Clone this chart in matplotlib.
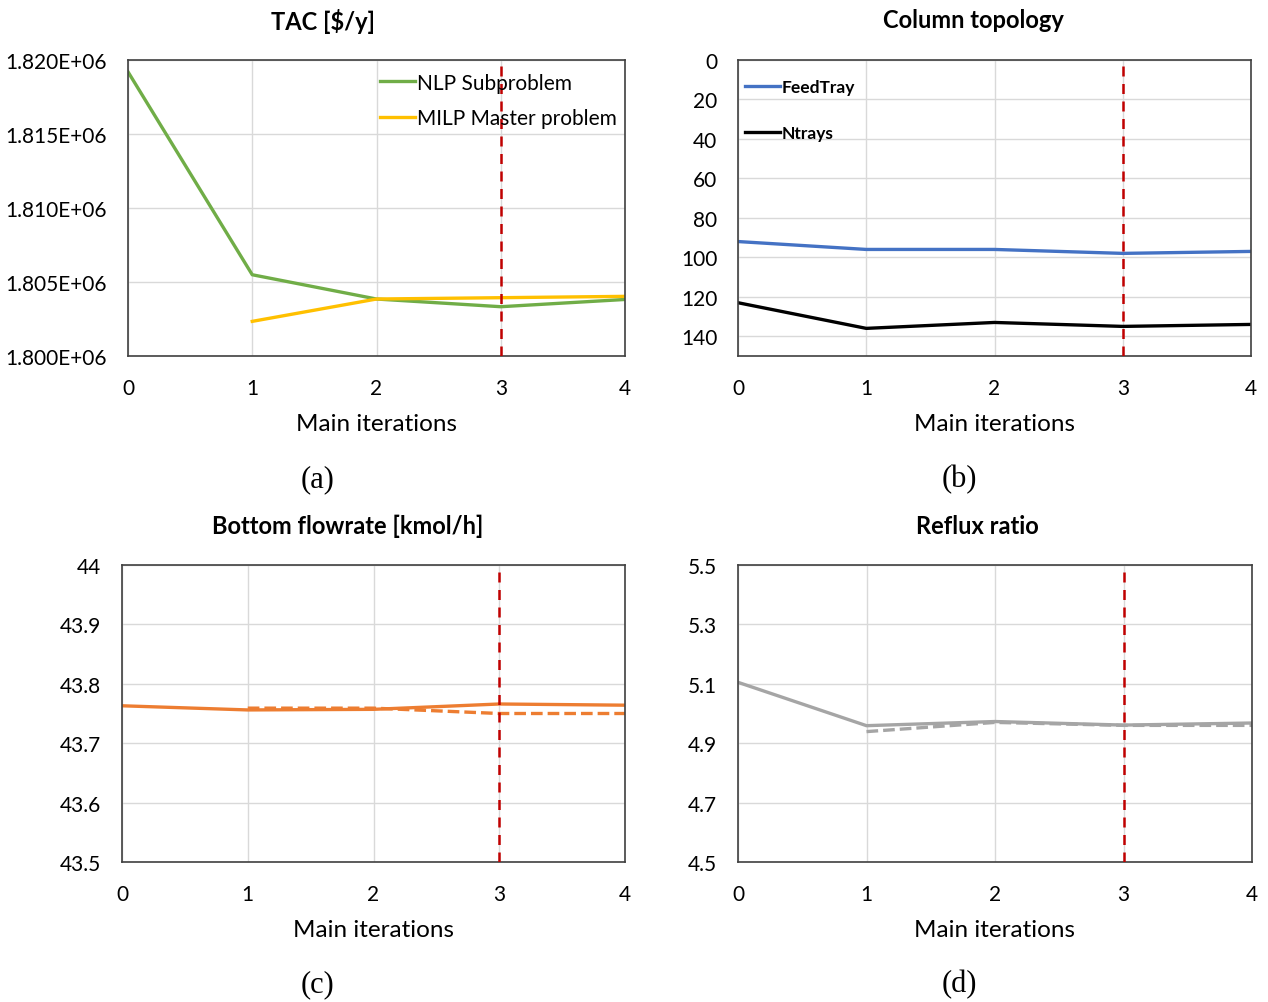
import numpy as np
import matplotlib.pyplot as plt
from matplotlib.ticker import FuncFormatter

# iterations
iters = [0, 1, 2, 3, 4]
iters_milp = [1, 2, 3, 4]

# (a) TAC [$/y]
tac_nlp = [1.8192e6, 1.80549e6, 1.80385e6, 1.80333e6, 1.80382e6]
tac_milp = [1.80234e6, 1.80385e6, 1.80394e6, 1.80403e6]

# (b) column topology
feed_tray = [92, 96, 96, 98, 97]
n_trays = [123, 136, 133, 135, 134]

# (c) bottom flowrate [kmol/h]
bottom_nlp = [43.763, 43.756, 43.757, 43.766, 43.764]
bottom_milp = [43.759, 43.759, 43.750, 43.750]

# (d) reflux ratio
reflux_nlp = [5.105, 4.959, 4.973, 4.961, 4.968]
reflux_milp = [4.939, 4.970, 4.960, 4.960]

best_iter = 3

plt.rcParams['font.family'] = ['Lato', 'DejaVu Sans']

W, H = 1268, 1003
fig = plt.figure(figsize=(W / 100, H / 100), dpi=100)


def add_ax(left, right, top, bottom):
    return fig.add_axes([left / W, 1 - bottom / H, (right - left) / W, (bottom - top) / H])


def style(ax, title, title_xy, label, label_xy):
    ax.set_xlim(0, 4)
    ax.set_xticks(iters)
    ax.grid(True, color='#d9d9d9', lw=1)
    ax.set_axisbelow(True)
    for s in ax.spines.values():
        s.set_color('#404040')
        s.set_linewidth(1.2)
    ax.tick_params(length=0, labelsize=15)
    ax.tick_params(axis='x', pad=16)
    ax.tick_params(axis='y', pad=15)
    ax.set_xlabel('Main iterations', fontsize=17.5, labelpad=11)
    fig.text(title_xy[0] / W, 1 - title_xy[1] / H, title, fontsize=17,
             fontweight='bold', ha='center', va='center')
    fig.text(label_xy[0] / W, 1 - label_xy[1] / H, label, fontsize=22,
             family='Liberation Serif', ha='center', va='center')
    ax.axvline(best_iter, color='#c00000', lw=1.8, ls=(0, (4, 3)), zorder=5)


# (a)
ax = add_ax(128, 625, 61, 357)
ax.plot(iters, tac_nlp, color='#70ad47', lw=2.4, label='NLP Subproblem')
ax.plot(iters_milp, tac_milp, color='#ffc000', lw=2.4, label='MILP Master problem')
ax.set_ylim(1.800e6, 1.820e6)
ax.set_yticks(np.arange(1.800e6, 1.8201e6, 0.005e6))
ax.yaxis.set_major_formatter(FuncFormatter(lambda v, p: '%.3fE+06' % (v / 1e6)))
style(ax, 'TAC [$/y]', (323, 21), '(a)', (318, 480))
ax.legend(loc='upper right', frameon=False, fontsize=15, handlelength=1.65,
          handletextpad=0.1, borderaxespad=0, labelspacing=0.75,
          bbox_to_anchor=(1.0, 0.985))

# (b)
ax = add_ax(738, 1251, 61, 357)
ax.plot(iters, feed_tray, color='#4472c4', lw=2.4, label='FeedTray')
ax.plot(iters, n_trays, color='black', lw=2.4, label='Ntrays')
ax.set_ylim(150, 0)
ax.set_yticks(np.arange(0, 141, 20))
style(ax, 'Column topology', (973, 21), '(b)', (959, 480))
ax.legend(loc='upper left', frameon=False, prop={'size': 12.5, 'weight': 'bold'},
          handlelength=2.0, handletextpad=0.1, borderaxespad=0,
          labelspacing=1.75, bbox_to_anchor=(0.0, 0.96))

# (c)
ax = add_ax(122, 625, 566, 863)
ax.plot(iters, bottom_nlp, color='#ed7d31', lw=2.4)
ax.plot(iters_milp, bottom_milp, color='#ed7d31', lw=2.4, ls=(0, (3.5, 1.5)))
ax.set_ylim(43.5, 44)
ax.set_yticks(np.arange(43.5, 44.01, 0.1))
ax.yaxis.set_major_formatter(FuncFormatter(lambda v, p: '%g' % round(v, 1)))
style(ax, 'Bottom flowrate [kmol/h]', (348, 526), '(c)', (318, 985))

# (d)
ax = add_ax(738, 1252, 566, 863)
ax.plot(iters, reflux_nlp, color='#a5a5a5', lw=2.4)
ax.plot(iters_milp, reflux_milp, color='#a5a5a5', lw=2.4, ls=(0, (3.5, 1.5)))
ax.set_ylim(4.5, 5.5)
ax.set_yticks(np.arange(4.5, 5.51, 0.2))
ax.yaxis.set_major_formatter(FuncFormatter(lambda v, p: '%.1f' % v))
style(ax, 'Reflux ratio', (977, 526), '(d)', (959, 985))

fig.savefig('out.png', dpi=100)
